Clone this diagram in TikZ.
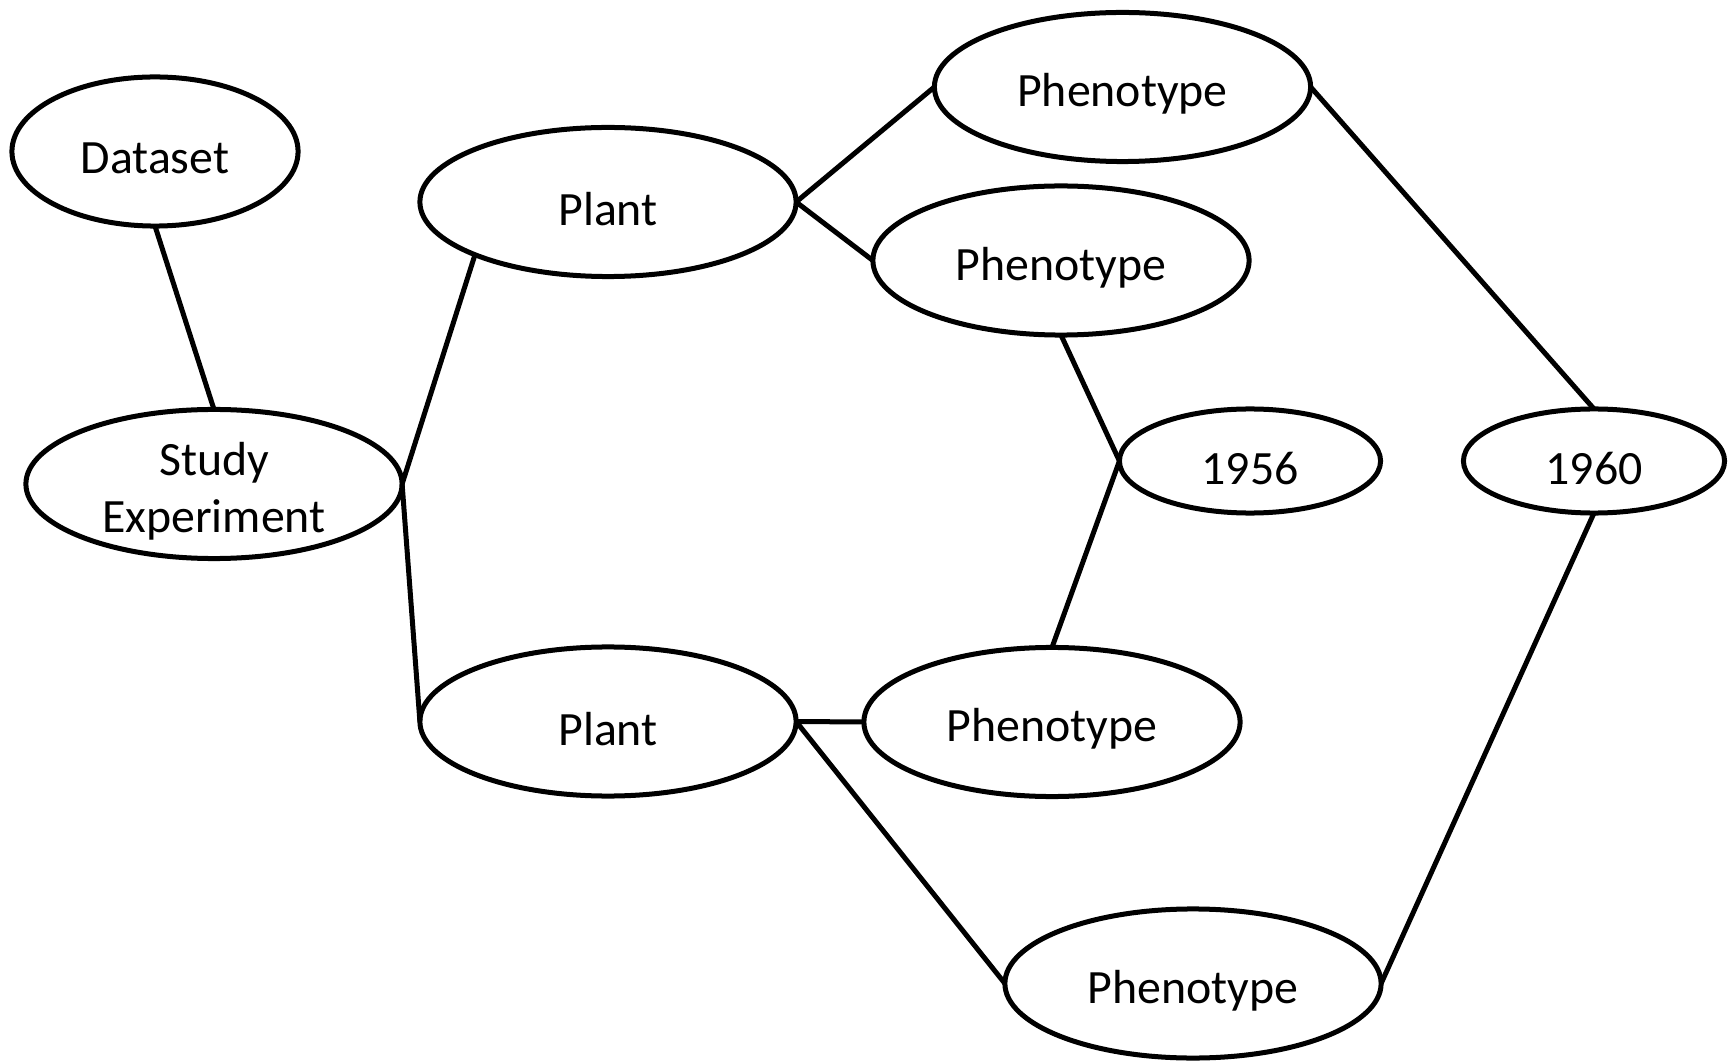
\documentclass[tikz,border=0pt]{standalone}
\usepackage{fontspec}
\setmainfont{Carlito}
\usetikzlibrary{shapes.geometric}
\begin{document}
\begin{tikzpicture}[x=0.01cm,y=-0.01cm,
  ent/.style={draw=black, line width=0.05cm, ellipse, inner sep=0pt, outer sep=0pt,
    minimum width=3.76cm, minimum height=1.49cm,
    label={[txt]center:#1}},
  txt/.style={align=center, yshift=-0.072cm, inner sep=0pt,
    font=\fontsize{13.6}{16.4}\selectfont},
  yr/.style={ent=#1, minimum width=2.61cm, minimum height=1.04cm},
  link/.style={draw=black, line width=0.05cm}]
\useasboundingbox (0,0) rectangle (1730,1061);
\node[ent=Dataset, minimum width=2.86cm] (ds) at (155,151.5) {};
\node[ent={Study\\Experiment}] (se) at (214,484) {};
\node[ent=Plant] (pt) at (608,202) {};
\node[ent=Plant] (pb) at (608,721.5) {};
\node[ent=Phenotype] (p1) at (1122.5,87) {};
\node[ent=Phenotype] (p2) at (1061,260.5) {};
\node[yr=1956] (y56) at (1250,461) {};
\node[yr=1960] (y60) at (1594,461) {};
\node[ent=Phenotype] (p3) at (1052,722) {};
\node[ent=Phenotype] (p4) at (1193,983.5) {};
\draw[link] (ds.south) -- (se.north);
\draw[link] (se.east) -- (pt.south west);
\draw[link] (se.east) -- (pb.west);
\draw[link] (pt.east) -- (p1.west);
\draw[link] (pt.east) -- (p2.west);
\draw[link] (p2.south) -- (y56.west);
\draw[link] (y56.west) -- (p3.north);
\draw[link] (pb.east) -- (p3.west);
\draw[link] (pb.east) -- (p4.west);
\draw[link] (p1.east) -- (y60.north);
\draw[link] (y60.south) -- (p4.east);
\end{tikzpicture}
\end{document}
